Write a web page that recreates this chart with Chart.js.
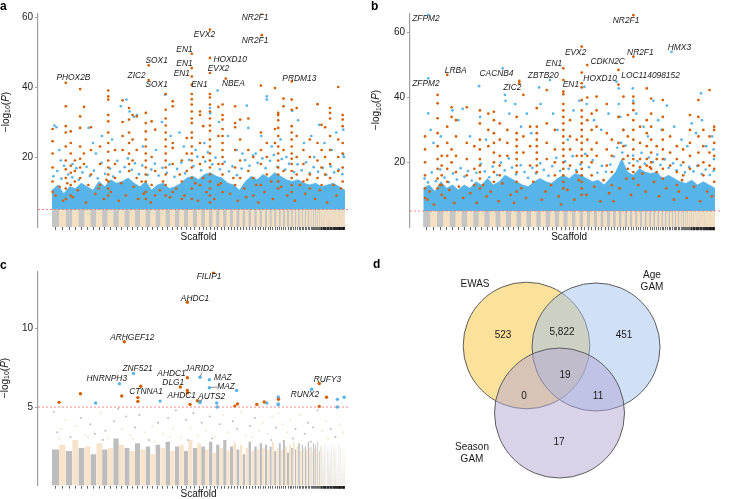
<!DOCTYPE html>
<html><head><meta charset="utf-8">
<script src="https://cdn.jsdelivr.net/npm/chart.js@4.4.1/dist/chart.umd.min.js"></script>
<style>
html,body{margin:0;padding:0;background:#fff;}
body{width:730px;height:499px;position:relative;overflow:hidden;font-family:'Liberation Sans',Arial,sans-serif;}
.box{position:absolute;}
.box canvas{display:block;}
.lt{position:absolute;font-weight:bold;font-size:12px;line-height:12px;color:#000;}
</style></head><body>
<div class="box" style="left:0;top:0;width:362px;height:245px"><canvas id="ca"></canvas></div>
<div class="box" style="left:365px;top:0;width:365px;height:245px"><canvas id="cb"></canvas></div>
<div class="box" style="left:0;top:250px;width:362px;height:249px"><canvas id="cc"></canvas></div>
<div class="box" style="left:365px;top:250px;width:365px;height:249px"><canvas id="cd"></canvas></div>
<div class="lt" style="left:0;top:0">a</div>
<div class="lt" style="left:371px;top:0">b</div>
<div class="lt" style="left:0;top:259px">c</div>
<div class="lt" style="left:373px;top:258px">d</div>
<script>
const FONT = "'Liberation Sans', Arial, Helvetica, sans-serif";

// ---------- DATA ----------
const THRESHOLD = 5;
// scaffold lengths (relative genome units, sorted largest first)
const scaffoldLen = [2.4,2.3,2.2,2.1,2.1,2.0,2.0,2.0,1.9,1.9,1.9,1.9,1.8,1.8,1.8,1.8,1.7,1.7,1.7,1.7,1.6,1.6,1.6,1.5,1.5,1.5,1.5,1.4,
 1.3,1.3,1.3,1.2,1.2,1.2,1.2,1.1,1.1,1.1,1.1,1.0,1.0,1.0,1.0,1.0,0.9,0.9,0.9,0.9,
 0.8,0.8,0.8,0.8,0.8,0.8,0.7,0.7,0.7,0.7,0.7,0.7,0.6,0.6,0.6,0.6,0.6,0.6,0.5,0.5,0.5,0.5,0.5,0.5,
 0.4,0.4,0.4,0.4,0.4,0.3,0.3,0.3,0.3,0.3,0.3,
 0.2,0.2,0.2,0.2,0.2,0.2,0.2,0.2,0.2,0.2,0.2,0.2,0.2,0.2,0.2,0.2,0.2,0.2,0.2,0.2,0.2,0.2,0.2,0.2,0.2,
 0.15,0.15,0.15,0.15,0.15,0.15,0.15,0.15,0.15,0.15,0.15,0.15,0.15,0.15,0.15,0.15,0.15,0.15,0.15,0.15];

const aTicks = [20,40,60];
const bTicks = [20,40,60];
const cTicks = [5,10];

// upper edge of the solid blue cloud, sampled along the genome
const bandX = [0,2,4,6,8,10,12,14,16,18,20,22,24,26,28,30,32,34,36,38,40,42,44,46,48,50,52,54,56,58,60,62,64,66,68,70,72,74,76,78,80,82,84,86,88,90,92,94,96,98,100];
const aBandTop = [10.5,12,9.5,11.5,11,12.5,11.5,10.5,13,11.5,13.5,12.5,13,14,12.5,11.5,13,10.5,12,12.5,11,11.5,12.5,14,14.5,13.5,15,15.5,14.5,14,12.5,12,10.5,13,14.5,13.5,15,14,15.5,14.5,13.5,13,13.5,12.5,12,12.5,11.5,12,12.5,11.5,10.5];
const bBandTop = [12,13,11,14,12,13,11.5,13,12,14,13,15,13,14,16,15,14,13,12.5,14,15,14,13.5,15,16,15,16.5,16,15,14,14.5,13,15,17,21,17,16,18,17,16.5,17,15,16,15,14,13.5,14.5,13,14,13,12];

// panel a: orange (position, [-log10 P values]) and blue points
const aOrange = [
 [0.2,[28,24.5,21,17,13,10]],[4.7,[41.2,34.5,28.8,27,23,19,16.5,14,11,8]],[6.4,[27.3,24,21,17.5,15.5,12,9]],
 [7.8,[19,16,13]],[9.6,[39.4,31.6,28.3,23,19.5,17,14]],[10.9,[34.3,21,18]],[13.3,[28.5,22,15]],[16.4,[23,18,12]],
 [19.2,[39,37.3,36.4,32,30.2,27,24,21.5,19,17,15,13,11,9]],[21.5,[22,18,14]],[24.1,[36.2,30,26,22]],
 [26.3,[34,30.7,27,24,21,18,16]],[27.5,[32,25,19]],[28.9,[31.6,22,14]],
 [32,[32.6,29.7,27.3,25,23,21,19,17,15,13,10,8]],[33,[46.2,42]],[34,[30.2,20,12]],[35.2,[27.8,16,9]],
 [38.8,[38,33.5,31,29,27,25,23,21,19,17,15,12,9]],[41.2,[35.9,34.5,24,22.6,18,10]],[44.3,[19,13,8]],[46,[25.4,21,16]],
 [47.7,[49.5,45.4,43,40.7,38,36.5,35,33,31,29.7,27,25.5,23,21,19,17,14,11,8]],[50.5,[33,32,24,18,12]],[51.6,[28.8,20,14]],
 [53.9,[56.4,48.3,44,38,37,35,33,31,29,27.5,25,23,21,19,17,15,13,11,9,7]],[56.8,[34.3,26,18,12]],
 [58.2,[35,32,30.7,28,26,24,22,20,18,15,10]],[59.3,[42.4]],[62.5,[34.5,29.7,28.5,22,17,12]],[64.2,[30.7,25,19,14]],
 [67,[31,22,16]],[68.7,[20,14,9]],[71.6,[61,54.8]],[71.3,[40.4,27,22,18,12]],[73.3,[24,20,15]],[76.1,[39.7,28,24]],
 [77.2,[32.6,32,30.5,28.3,26,23,21,19,17,15,13,11]],[79,[36.7,34.5,22,16]],
 [81.8,[41.6,36.4,33.5,28.8,27,25,23,21,19.5,18,16,14,12,10]],[83.5,[34,26,20,15]],[85.8,[22,18,13]],[88,[25,20,15,11]],
 [90.6,[35.1,24,19,14]],[92,[29.2,22,17,12]],[93.2,[28.5,20,15]],[94.9,[34,32.6,31,26,22,18,14]],[97.7,[40,25,20,16]],
 [99.2,[32,30.7,28.8,24,21,17,13]]
];
const aOrangeLow = [[1.2,9],[2.6,11.5],[3.8,7.5],[5.2,12.5],[7.1,8.5],[8.8,10.5],[11.6,7],[12.4,12],[14.8,9.5],[15.9,11],[17.7,8],
 [18.6,13.5],[20.1,10],[22.8,7.5],[23.6,12.5],[25.2,9],[27.9,11.5],[29.4,8],[30.6,13],[31.3,9.5],[33.7,7],[36.8,10.5],[37.9,13],
 [40.3,8.5],[42.4,11],[43.6,15],[45.2,9],[48.9,12.5],[49.8,7.5],[52.7,10],[55.4,8],[57.6,12.5],[60.8,9.5],[61.9,14],[63.4,7.5],
 [65.6,11],[66.3,8.5],[69.7,12],[70.4,7],[72.5,10],[74.8,13],[75.4,8],[78.2,11.5],[80.3,9],[82.9,7.5],[84.6,12],[86.4,9.5],
 [87.1,13.5],[89.8,8],[91.4,10.5],[93.9,7],[96.1,12],[97.1,9],[98.6,11]];
const aBlue = [[0.8,29],[1.5,28.5],[2.5,22],[3,19],[7,18],[12.5,28.3],[14,24],[15,21],[17,26],[20.5,25],[23.5,34.5],[25.4,36.4],
 [26.5,33],[27.9,31.5],[29,32],[31,23],[35.5,22],[37.5,30],[38.6,37.8],[40.5,26],[43.5,27],[45,23],[49,22],[52,24],[53.9,34],
 [54,32.5],[56.5,39],[57,30],[60,26],[63,22],[65,21],[66.5,34.7],[67,28.3],[69.5,21],[71.4,26],[73.3,37.3],[73.3,36.4],[75,23],
 [78,25],[80,20],[82,33.2],[84,30.5],[86,24],[88.5,26],[89.5,20],[91.2,29.2],[93,24],[95.5,22],[97,27],[99.4,27.8],[99.4,20.7],[99.6,20],
 [0.5,14.5],[1.8,16],[3.2,13.8],[4.1,17.5],[5.5,15],[6.9,14.2],[8.3,16.8],[9.1,13.5],[10.4,15.6],[11.8,17.2],[12.9,14.6],[14.3,16.1],
 [15.6,13.9],[16.9,18.3],[18.1,15.2],[19.8,16.7],[20.9,14.4],[22.3,18.9],[23.2,15.8],[24.8,17.1],[25.9,19.6],[27.2,16.3],[28.3,18.2],
 [29.7,15.1],[30.8,17.6],[32.6,14.9],[33.9,16.4],[35.1,18.1],[36.4,14.7],[37.7,16.9],[39.2,15.5],[40.1,17.8],[41.8,14.3],[42.7,16.6],
 [44.1,18.4],[45.4,15.3],[46.8,19.2],[48.3,17.4],[49.6,20.1],[50.9,16.2],[52.3,18.7],[53.2,21.3],[54.7,17.9],[55.8,19.8],[57.3,16.5],
 [58.9,18.6],[60.4,15.9],[61.6,17.3],[63.1,14.8],[64.7,16.7],[65.9,19.1],[67.4,17.5],[68.6,20.4],[70.2,18.3],[71.8,19.6],[72.9,16.8],
 [74.4,18.9],[75.7,20.6],[76.9,17.2],[78.4,19.4],[79.6,16.4],[80.9,18.1],[82.6,15.7],[83.8,17.9],[85.2,16.2],[86.7,18.5],[87.9,15.4],
 [89.3,17.1],[90.8,15.8],[92.4,16.9],[93.6,14.9],[95.1,17.3],[96.3,15.6],[97.8,16.4],[99.1,15.1]];

const bOrange = [
 [0.6,[28,24,20,16,12,9]],[4.9,[40.8,38.2,33.6,29,25,21,18,15,12]],[6.3,[22,19,16,13,10]],[8.2,[47,31,26,22,18,14]],
 [9.7,[37,34,24,20]],[11.2,[33,28,22,17]],[14.9,[37,26,21,16]],[17.5,[25,18,13]],[19.4,[36,32,27,24,21,19,17,15,12]],
 [22.3,[35,30,25]],[24.2,[35.6,33,29,26,23,20,17,14]],[26.2,[32,27,22,19,16]],[28.8,[30,26,22]],
 [32,[34,29,27,25,23,21,19,17,14,11]],[32.9,[45.1,44.4]],[34.3,[40.8,28,23]],[36.6,[31,25,19]],
 [38.9,[36.7,31,29,27,25,23,21,19,17]],[42.3,[42.3,32,26,21]],[45.1,[30,24,20,16]],
 [48,[49,45.4,41.8,41,38,36,34,32,30,28,26,24,22,20,18,16,14,12]],[50.3,[33,28,24,19]],[52.6,[27,22,17]],
 [54.3,[55.7,47.7,44.4,43.1,39.2,36,34,32,30,28,26,24,22,20,18,16,14,12,10]],[56.2,[50,40,33,27,22]],
 [57.7,[35,30,24,20,16]],[59.4,[40.3,36,31,26,22]],[62.9,[38,29,24,19]],[64.6,[27,22,17,13]],[66.9,[48.5,44,34,26]],
 [68.6,[40.3,30,25,21]],[70.1,[34.6,28,22,18]],[72,[65.4,52.6,40.3,38.2,36.1,33,30,27,24,21,19,17,15]],
 [74.3,[31,26,21,18.5]],[76.6,[42.8,33,29,25,21,19]],[78.1,[39.7,35,31,27,23,20,18]],[80,[25,21,17]],
 [82.1,[39.2,34,30,27,24,21,18,15]],[84.6,[28,23,19]],[86.9,[25,21,17,13]],[89.1,[24,20,16]],[91.4,[34.6,30,26,22,18]],
 [94.3,[39.2,34,28,23,19]],[96,[30,25,20,16]],[98.1,[42.3,28,23,19]],[99.7,[31,30,26,22,18,14]]
];
const bOrangeLow = [[1.4,8.5],[2.2,11],[3.6,7],[5.7,13],[7.4,9],[8.9,11.5],[10.6,7.5],[12.2,12.5],[13.7,9],[16.1,10.5],[18.3,7.5],
 [20.5,13],[21.7,9.5],[23.1,11],[25.8,8],[27.1,13.5],[29.9,10],[31.1,7.5],[33.6,12],[35.2,9],[37.7,14],[40.6,8.5],[41.9,11],
 [43.8,13],[46.4,9.5],[47.2,7],[49.4,11.5],[51.8,8.5],[53.3,14.5],[55.9,10],[58.6,12.5],[60.7,8],[61.8,14.5],[63.7,10.5],
 [65.2,8],[67.3,12],[69.6,15],[71.2,10],[73.7,13],[75.1,16.5],[76.2,11],[77.7,18.5],[79.1,14],[80.8,9.5],[83.3,12],[85.9,8.5],
 [87.6,11],[88.7,14.5],[90.3,9],[92.8,12.5],[94.9,8],[97.3,11],[98.9,9.5]];
const bBlue = [[1.7,65.5],[1.7,45.9],[1.7,35.1],[2.5,30],[3.5,26],[6,28],[10,36],[12,33],[13.5,36.5],[16,28],[19.1,43.5],[19.5,34],
 [21.5,27],[27.2,49],[28,40.8],[28.2,39],[29.5,35],[31.5,38],[33.5,31],[35.5,35],[37,29],[39.7,43.1],[40.2,38],[43.4,45.4],
 [44.5,35],[46,30],[49.5,27],[51.5,36],[53.5,39],[55.2,43.3],[56,38],[58.5,33],[61,30],[63.5,35],[66.2,44.9],[67,42.8],[67,38],
 [67.5,34],[68.5,30],[71.8,42.8],[72,39],[73,35],[75.5,31],[77,28],[78.9,39],[80.5,33],[81.7,30],[83.5,37.5],[85.1,54.1],
 [86,31],[88.5,27],[90.5,25],[92,32],[93.5,29],[95.2,41.3],[95.5,33],[97,25],[99,28],[99.5,24],[99.6,21],
 [0.4,15],[1.6,13.8],[2.9,16.9],[4.3,14.2],[5.8,17.8],[7.3,15.3],[8.7,13.9],[10.2,16.6],[11.5,14.7],[12.8,18.2],[14.1,15.6],
 [15.3,17.3],[16.6,14.4],[18.2,16.8],[19.7,19.5],[21.1,17.2],[22.6,15.4],[23.8,18.7],[25.3,16.1],[26.6,19.9],[27.9,17.5],
 [29.3,21.2],[30.4,18.4],[31.8,16.3],[33.4,19.1],[34.7,17],[35.9,15.2],[37.4,18.3],[38.6,16.6],[40.1,19.7],[41.3,17.7],
 [42.9,15.9],[44.2,18.8],[45.6,21.4],[46.9,17.4],[48.6,20.3],[49.8,18],[51.2,21.9],[52.4,17.6],[53.9,19.4],[55.5,22.6],
 [56.8,18.5],[58.1,20.7],[59.7,16.8],[61.2,18.9],[62.6,17.1],[64.1,19.3],[65.4,21.8],[66.5,24.5],[67.8,26],[68.2,23],
 [69.3,25.2],[70.6,19.8],[71.9,22.1],[73.4,20.4],[74.8,22.9],[75.9,19.6],[77.3,21.5],[78.7,20.1],[80.2,22.4],[81.3,19.2],
 [82.8,20.9],[84.1,18.3],[85.6,19.7],[86.8,17.5],[88.3,19.1],[89.7,16.9],[91.1,18.6],[92.6,17.2],[93.9,18.9],[95.4,16.4],
 [96.8,17.8],[98.2,16.1],[99.5,17.4]];

// panel c
const cOrange = [[2.4,5.3],[9.7,5.85],[23.8,5.7],[24.7,9.15],[30.3,6.32],[29.3,5.6],[29.3,5.36],[43.8,6.28],[46.2,11.66],
 [46.2,6.87],[46.2,6.06],[46.2,5.9],[47.1,5.17],[49.6,5.4],[55.1,13.55],[62.4,5.06],[63.3,5.2],[69.9,5.17],[72.4,5.32],
 [77.3,5.5],[91.2,6.5],[93.7,5.62],[91.2,5.04]];
const cBlue = [[14.9,5.26],[23,6.49],[27.8,7.13],[36.9,5.38],[50.5,6.9],[50.5,5.36],[50.5,5.28],[53.7,6.74],[53.7,6.23],
 [56.2,5.26],[56.4,5.0],[63,6.06],[73.3,5.26],[77.2,5.64],[77.2,5.2],[77.2,5.14],[88.6,6.13],[97.4,5.49],[97.4,5.0],[99.7,5.62]];
// top of the dense sub-threshold cloud per scaffold
const cLowTop = [2.3,2.6,2.2,2.9,2.4,2.5,2.0,2.7,2.3,2.4,3.0,2.6,2.4,2.2,2.7,2.3,2.5,2.0,2.6,2.4,2.8,2.2,2.5,2.6,2.2,2.9,2.4,2.7,
 2.5,2.3,2.8,2.1,2.6,2.4,2.9,2.2,2.5,2.7,2.3,2.6,2.0,2.4,2.8,2.2,2.5,2.3,2.7,2.4,
 2.6,2.3,2.5,2.8,2.2,2.4,2.7,2.3,2.9,2.5,2.1,2.6,2.4,2.8,2.3,2.5,2.7,2.2,2.6,2.4,2.5,2.3,2.8,2.4,
 2.5,2.2,2.7,2.4,2.6,2.3,2.8,2.4,2.2,2.6,2.5,
 2.4,2.7,2.3,2.5,2.2,2.6,2.4,2.8,2.3,2.5,2.1,2.6,2.4,2.7,2.3,2.5,2.2,2.6,2.4,2.3,2.7,2.5,2.2,2.6,2.4,
 2.5,2.3,2.6,2.2,2.7,2.4,2.5,2.3,2.6,2.1,2.4,2.7,2.3,2.5,2.2,2.6,2.4,2.3,2.5,2.2];
const cLow = [[0.6,4.7],[1.8,3.4],[3.2,3.6],[4.6,4.2],[6.3,3.1],[8.1,3.8],[9.8,4.3],[11.4,3.2],[13.1,3.9],[14.6,3.3],[16.7,4.6],
 [18.2,3.5],[19.3,3.0],[21.2,4.1],[22.6,4.9],[23.9,3.6],[25.3,4.4],[26.7,3.2],[28.4,3.7],[29.8,4.5],[31.6,3.4],[33.1,2.9],
 [34.3,3.8],[36.2,4.0],[37.8,3.3],[39.6,4.3],[41.2,3.6],[42.3,4.8],[44.1,3.1],[45.7,4.2],[47.3,3.7],[48.2,4.6],[49.7,3.2],
 [51.1,4.0],[52.6,3.5],[53.8,4.4],[55.6,3.1],[57.2,3.9],[58.4,4.5],[60.1,3.4],[61.7,4.1],[63.2,3.6],[64.4,4.7],[66.1,3.2],
 [67.6,3.8],[69.2,4.3],[70.7,3.5],[71.9,4.0],[73.6,3.3],[75.1,4.4],[76.4,3.7],[77.3,4.6],[78.8,3.9],[80.2,3.4],[81.4,4.2],
 [83.1,3.6],[84.7,4.5],[86.2,3.3],[87.4,4.0],[89.1,3.7],[90.6,4.8],[92.2,3.5],[93.4,4.1],[95.1,3.6],[96.7,3.1],[98.2,3.9],[99.4,3.4],
 [2.5,3.0],[7.2,2.8],[12.3,3.1],[17.4,2.9],[27.5,3.0],[35.1,2.8],[40.4,3.1],[46.5,2.9],[54.7,3.0],[62.3,2.8],[68.4,3.1],[74.8,2.9],[82.2,3.0],[88.3,2.8],[94.2,3.0]];

// gene labels: [text, position, -log10 P]
const aGenes = [['NR2F1',69.3,59.7],['NR2F1',69.3,53.1],['EVX2',52,55],['EN1',45.2,50.7],['SOX1',35.7,47.5],['EN1',45.2,46.6],
 ['HOXD10',60.8,47.8],['ZIC2',28.9,43.2],['EN1',44.3,43.7],['EVX2',56.8,45.2],['PHOX2B',7.3,42.6],['SOX1',35.7,40.7],
 ['EN1',50.3,40.7],['NBEA',61.9,41],['PRDM13',84.4,42.5]];
const bGenes = [['ZFPM2',0.9,64.2],['NR2F1',69.5,63.7],['HMX3',87.8,55.4],['NR2F1',74.4,53.9],['EVX2',52.2,53.8],['EN1',44.8,50.5],
 ['CDKN2C',63.2,51.1],['LRBA',11.1,48.4],['CACNB4',25.1,47.5],['ZBTB20',41.1,46.6],['HOXD10',60.6,45.9],
 ['LOC114098152',77.9,46.7],['ZFPM2',0.9,44.2],['ZIC2',30.5,43.1],['EN1',50.6,43.9]];
const cGenes = [['FILIP1',53.6,13.3],['AHDC1',48.8,11.9],['ARHGEF12',27.4,9.43],['ZNF521',29.2,7.45],['HNRNPH3',18.7,6.8],
 ['JARID2',50.3,7.45],['AHDC1',40.8,7.13],['DLG1',41.4,6.55],['MAZ',58.3,6.87],['MAZ',59.4,6.28],['CTNNA1',32.1,5.96],
 ['AHDC1',44.3,5.74],['AUTS2',54.5,5.68],['RUFY3',94,6.77],['RUNX2',86.3,5.8]];
const cLeaders = [[51.2,7.2,50.6,6.95],[54.1,6.25,56.4,6.27],[50.8,5.36,51.4,5.58]];

// panel d (Venn)
const vennSets = ['EWAS','Age GAM','Season GAM'];
const vennRegions = ['EWAS only','EWAS & Age','Age only','All three','EWAS & Season','Age & Season','Season only'];
const vennCounts = [523,5822,451,19,0,11,17];

// ---------- DERIVED ----------
const scStart = []; let acc = 0;
scaffoldLen.forEach(l => { scStart.push(acc); acc += l; });
const genomeLen = acc;
const scCenters = scaffoldLen.map((l,i) => scStart[i] + l/2);
function scaffoldIndex(x){ for (let i = scStart.length-1; i >= 0; i--) if (x >= scStart[i]) return i; return 0; }
function expandCols(cols){ const out=[]; cols.forEach(([x,vs]) => vs.forEach(v => out.push({x, y:v}))); return out; }
function pairs(arr){ return arr.map(([x,v]) => ({x, y:v})); }
function stripes(parity, h){
  const out = [];
  scaffoldLen.forEach((len,i) => {
    if (i % 2 !== parity) return;
    const v = Array.isArray(h) ? h[i] : h;
    out.push({x:scStart[i], y:v}, {x:scStart[i]+len, y:v}, {x:scStart[i]+len, y:null});
  });
  return out;
}

const COL = {orange:'#D55E00', blue:'#56B4E9', grey:'#C5C5C5', beige:'#F6E0C2', thr:'#EE7C80',
  cgrey:'#BDBDBD', cbeige:'#F8E4CA'};

const panelInfo = {};

function drawYTitle(ctx, cx, cy){
  ctx.save(); ctx.translate(cx, cy); ctx.rotate(-Math.PI/2);
  const parts = [['\u2212log','10px',0],['10','7px',2.5],['(','10px',0],['P','italic 10px',0],[')','10px',0]];
  ctx.textBaseline = 'middle'; ctx.textAlign = 'left'; ctx.fillStyle = '#111';
  let w = 0; parts.forEach(p => { ctx.font = p[1]+' '+FONT; w += ctx.measureText(p[0]).width; });
  let px = -w/2;
  parts.forEach(p => { ctx.font = p[1]+' '+FONT; ctx.fillText(p[0], px, p[2]); px += ctx.measureText(p[0]).width; });
  ctx.restore();
}

const panelText = {
  id: 'panelText',
  afterDraw(chart){
    const info = panelInfo[chart.canvas.id]; if (!info) return;
    const {ctx} = chart; const x = chart.scales.x, y = chart.scales.y;
    ctx.save();
    ctx.font = 'italic 8.4px ' + FONT; ctx.fillStyle = '#1a1a1a';
    ctx.textAlign = 'center'; ctx.textBaseline = 'middle';
    info.genes.forEach(([t,gx,gv]) => ctx.fillText(t, x.getPixelForValue(gx), y.getPixelForValue(gv)));
    ctx.strokeStyle = '#444'; ctx.lineWidth = 0.6;
    (info.leaders || []).forEach(([x1,v1,x2,v2]) => {
      ctx.beginPath(); ctx.moveTo(x.getPixelForValue(x1), y.getPixelForValue(v1));
      ctx.lineTo(x.getPixelForValue(x2), y.getPixelForValue(v2)); ctx.stroke();
    });
    ctx.font = '10px ' + FONT; ctx.fillStyle = '#111';
    ctx.fillText('Scaffold', (x.getPixelForValue(0) + x.getPixelForValue(genomeLen))/2, info.xTitleY);
    drawYTitle(ctx, info.yTitleX, info.yTitleY);
    ctx.restore();
  }
};

function manhattan(id, p){
  panelInfo[id] = p;
  const ds = [
    {type:'line', data:[{x:p.xMin,y:THRESHOLD},{x:p.xMax,y:THRESHOLD}], borderColor:COL.thr, borderWidth:0.9,
     borderDash:[2,2], pointRadius:0, fill:false, order:0},
    {type:'scatter', data:p.orange, backgroundColor:COL.orange, pointRadius:p.r, borderWidth:0, order:1},
    {type:'scatter', data:p.blue, backgroundColor:COL.blue, pointRadius:p.r, borderWidth:0, order:2}
  ];
  p.extra.forEach(d => ds.push(d));
  new Chart(document.getElementById(id), {
    type:'scatter',
    data:{datasets:ds},
    options:{
      responsive:true, maintainAspectRatio:false, animation:false, events:[],
      layout:{autoPadding:false, padding:{left:0, top:p.top, right:p.right, bottom:0}},
      plugins:{legend:{display:false}, tooltip:{enabled:false}},
      elements:{point:{radius:p.r, hoverRadius:p.r}},
      scales:{
        x:{type:'linear', min:p.xMin, max:p.xMax, border:{display:false},
           grid:{display:true, drawOnChartArea:false, drawTicks:true, tickLength:3, color:'#000', lineWidth:0.6},
           ticks:{display:false},
           afterBuildTicks:s => { s.ticks = scCenters.map(v => ({value:v})); },
           afterFit:s => { s.height = p.xAxisH; }},
        y:{type:'linear', min:0, max:p.yMax, border:{display:true, color:'#a0a0a0', width:1.2},
           grid:{display:true, drawOnChartArea:false, drawTicks:true, tickLength:3, color:'#a0a0a0', lineWidth:1},
           ticks:{font:{family:FONT, size:10}, color:'#222', padding:2},
           afterBuildTicks:s => { s.ticks = p.ticks.map(v => ({value:v})); },
           afterFit:s => { s.width = p.left; }}
      }
    },
    plugins:[panelText]
  });
}

function abExtras(band){
  return [
    {type:'line', data:stripes(0, THRESHOLD), backgroundColor:COL.grey, borderColor:'rgba(0,0,0,0)', borderWidth:0,
     pointRadius:0, fill:'origin', spanGaps:false, order:3},
    {type:'line', data:[{x:0,y:THRESHOLD},{x:genomeLen,y:THRESHOLD}], backgroundColor:COL.beige, borderColor:'rgba(0,0,0,0)',
     borderWidth:0, pointRadius:0, fill:'origin', order:4},
    {type:'line', data:bandX.map((x,i) => ({x, y:band[i]})), backgroundColor:COL.blue, borderColor:COL.blue, borderWidth:0.8,
     pointRadius:0, fill:'origin', tension:0, order:5}
  ];
}

manhattan('ca', {orange:expandCols(aOrange).concat(pairs(aOrangeLow)), blue:pairs(aBlue), genes:aGenes, ticks:aTicks, yMax:61,
  xMin:-4.78, xMax:101.7, left:38, right:12, top:13.5, xAxisH:18, r:1.35,
  yTitleX:6, yTitleY:112, xTitleY:237, extra:abExtras(aBandTop)});

manhattan('cb', {orange:expandCols(bOrange).concat(pairs(bOrangeLow)), blue:pairs(bBlue), genes:bGenes, ticks:bTicks, yMax:66,
  xMin:-4.56, xMax:101.7, left:45, right:10, top:13.2, xAxisH:17.8, r:1.35,
  yTitleX:11.7, yTitleY:110, xTitleY:237, extra:abExtras(bBandTop)});

const cLowPts = pairs(cLow);
manhattan('cc', {orange:pairs(cOrange), blue:pairs(cBlue), genes:cGenes, leaders:cLeaders, ticks:cTicks, yMax:13.6,
  xMin:-4.78, xMax:101.7, left:38, right:12, top:21.8, xAxisH:13.3, r:1.7,
  yTitleX:5, yTitleY:128, xTitleY:244,
  extra:[
    {type:'scatter', data:cLowPts.filter(pt => scaffoldIndex(pt.x)%2===0), backgroundColor:COL.cgrey, pointRadius:1, borderWidth:0, order:3},
    {type:'scatter', data:cLowPts.filter(pt => scaffoldIndex(pt.x)%2===1), backgroundColor:COL.cbeige, pointRadius:1, borderWidth:0, order:3},
    {type:'line', data:stripes(0, cLowTop), backgroundColor:COL.cgrey, borderColor:'rgba(0,0,0,0)', borderWidth:0,
     pointRadius:0, fill:'origin', spanGaps:false, order:4},
    {type:'line', data:stripes(1, cLowTop), backgroundColor:COL.cbeige, borderColor:'rgba(0,0,0,0)', borderWidth:0,
     pointRadius:0, fill:'origin', spanGaps:false, order:5}
  ]});

// ---------- VENN ----------
const vennLayout = {
  centers:[[161.5,95.5],[231,97],[194.5,163]],
  r:[63.3,64,65],
  fill:['rgba(249,195,53,0.5)','rgba(159,193,239,0.5)','rgba(179,167,213,0.5)'],
  setLabelPos:[[110,34],[287,25],[107,197]],
  regionPos:[[138,85],[197,82],[259,85],[200,125],[159,146],[233,146],[194,192]]
};
const vennText = {
  id:'vennText',
  afterDatasetsDraw(chart){
    const {ctx} = chart; const x = chart.scales.x, y = chart.scales.y;
    ctx.save(); ctx.fillStyle = '#1a1a1a'; ctx.textAlign = 'center'; ctx.textBaseline = 'middle';
    ctx.font = '10px ' + FONT;
    vennSets.forEach((name,i) => {
      const [lx,ly] = vennLayout.setLabelPos[i];
      name.split(' ').forEach((line,k) => ctx.fillText(line, x.getPixelForValue(lx), y.getPixelForValue(ly + k*12.5)));
    });
    vennCounts.forEach((c,i) => {
      const [lx,ly] = vennLayout.regionPos[i];
      ctx.fillText(c.toLocaleString('en-US'), x.getPixelForValue(lx), y.getPixelForValue(ly));
    });
    ctx.restore();
  }
};
new Chart(document.getElementById('cd'), {
  type:'scatter',
  data:{labels:vennSets, datasets:[{data:vennLayout.centers.map(([cx,cy]) => ({x:cx, y:cy})),
    pointRadius:vennLayout.r, pointHoverRadius:vennLayout.r, backgroundColor:vennLayout.fill,
    borderColor:'#5c5c5c', borderWidth:1, clip:false}]},
  options:{responsive:true, maintainAspectRatio:false, animation:false, events:[],
    layout:{autoPadding:false, padding:0},
    plugins:{legend:{display:false}, tooltip:{enabled:false}},
    scales:{x:{display:false, min:0, max:365}, y:{display:false, min:0, max:249, reverse:true}}},
  plugins:[vennText]
});
</script>
</body></html>
